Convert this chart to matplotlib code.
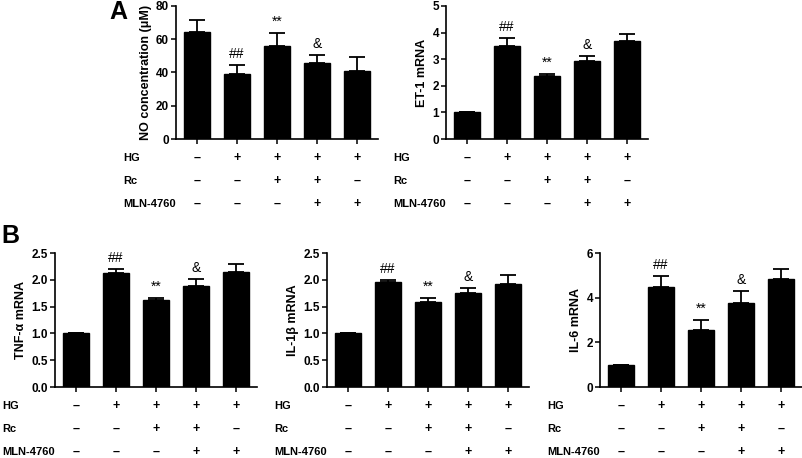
import numpy as np
import matplotlib.pyplot as plt

plt.rcParams["font.family"] = ["Liberation Sans", "DejaVu Sans"]
plt.rcParams["font.weight"] = "bold"

# ----------------------------
# Data
# ----------------------------

groups = ["G1", "G2", "G3", "G4", "G5"]
hg = ["–", "+", "+", "+", "+"]
rc = ["–", "–", "+", "+", "–"]
mln = ["–", "–", "–", "+", "+"]
row_names = ["HG", "Rc", "MLN-4760"]

no_mean = [64.4, 39.1, 56.1, 45.9, 40.9]
no_err = [7.2, 5.4, 7.7, 4.6, 8.2]

et1_mean = [1.0, 3.49, 2.37, 2.92, 3.67]
et1_err = [0.0, 0.29, 0.09, 0.2, 0.28]

tnf_mean = [1.0, 2.13, 1.62, 1.88, 2.15]
tnf_err = [0.0, 0.08, 0.04, 0.13, 0.14]

il1b_mean = [1.0, 1.95, 1.59, 1.76, 1.93]
il1b_err = [0.0, 0.05, 0.07, 0.08, 0.16]

il6_mean = [1.0, 4.5, 2.55, 3.74, 4.82]
il6_err = [0.0, 0.45, 0.45, 0.55, 0.46]

marks = ["", "##", "**", "&", ""]

# ----------------------------
# Layout (figure fractions)
# ----------------------------

W, H = 803, 458
fig = plt.figure(figsize=(W / 100, H / 100), dpi=100)

ax_w = 202 / W
top_row = (1 - 139 / H, 133 / H)
bot_row = (1 - 387 / H, 134 / H)

panels = [
    (176, top_row, no_mean, no_err, "NO concentration (μM)", (0, 80), [0, 20, 40, 60, 80], "%d"),
    (446, top_row, et1_mean, et1_err, "ET-1 mRNA", (0, 5), [0, 1, 2, 3, 4, 5], "%d"),
    (55, bot_row, tnf_mean, tnf_err, "TNF-α mRNA", (0, 2.5), [0, 0.5, 1.0, 1.5, 2.0, 2.5], "%.1f"),
    (327, bot_row, il1b_mean, il1b_err, "IL-1β mRNA", (0, 2.5), [0, 0.5, 1.0, 1.5, 2.0, 2.5], "%.1f"),
    (600, bot_row, il6_mean, il6_err, "IL-6 mRNA", (0, 6), [0, 2, 4, 6], "%d"),
]

x = np.arange(len(groups))
px = 0.72  # points per pixel at 100 dpi

for left, (bottom, height), mean, err, ylabel, ylim, yticks, fmt in panels:
    ax = fig.add_axes([left / W, bottom, ax_w, height])
    ax.bar(x, mean, width=0.66, color="black", edgecolor="black", zorder=2)
    yerr = np.array([np.zeros(len(err)), err])
    ax.errorbar(x, mean, yerr=yerr, fmt="none", ecolor="black",
                elinewidth=1.3, capsize=5.5, capthick=1.3, zorder=1)

    span = ylim[1] - ylim[0]
    for xi, m, e, s in zip(x, mean, err, marks):
        if s:
            ax.text(xi, m + e + 0.03 * span, s, ha="center", va="bottom",
                    fontsize=10, fontweight="normal")

    ax.set_xlim(-0.52, 4.52)
    ax.set_ylim(*ylim)
    ax.set_yticks(yticks)
    ax.set_yticklabels([fmt % v for v in yticks])
    ax.set_xticks(x)
    ax.set_xticklabels([])
    ax.set_ylabel(ylabel, fontsize=9, fontweight="bold", labelpad=3)
    ax.tick_params(axis="y", labelsize=8.5, length=3.5, width=1.1, pad=1.5)
    ax.tick_params(axis="x", length=3.5, width=1.1)
    for sp in ["top", "right"]:
        ax.spines[sp].set_visible(False)
    for sp in ["left", "bottom"]:
        ax.spines[sp].set_linewidth(1.2)

    # treatment table under the axis
    for row, (name, signs) in enumerate(zip(row_names, [hg, rc, mln])):
        dy = -(19 + 23 * row) * px
        ax.annotate(name, xy=(0, 0), xycoords="axes fraction",
                    xytext=(-53 * px, dy), textcoords="offset points",
                    ha="left", va="center", fontsize=8, fontweight="bold",
                    annotation_clip=False)
        for xi, s in zip(x, signs):
            ax.annotate(s, xy=(xi, 0), xycoords=("data", "axes fraction"),
                        xytext=(0, dy), textcoords="offset points",
                        ha="center", va="center", fontsize=9, fontweight="bold",
                        annotation_clip=False)

fig.text(109 / W, 1 - 12 / H, "A", fontsize=18, fontweight="bold", va="center")
fig.text(1 / W, 1 - 236 / H, "B", fontsize=18, fontweight="bold", va="center")

fig.savefig("out.png", dpi=100)
